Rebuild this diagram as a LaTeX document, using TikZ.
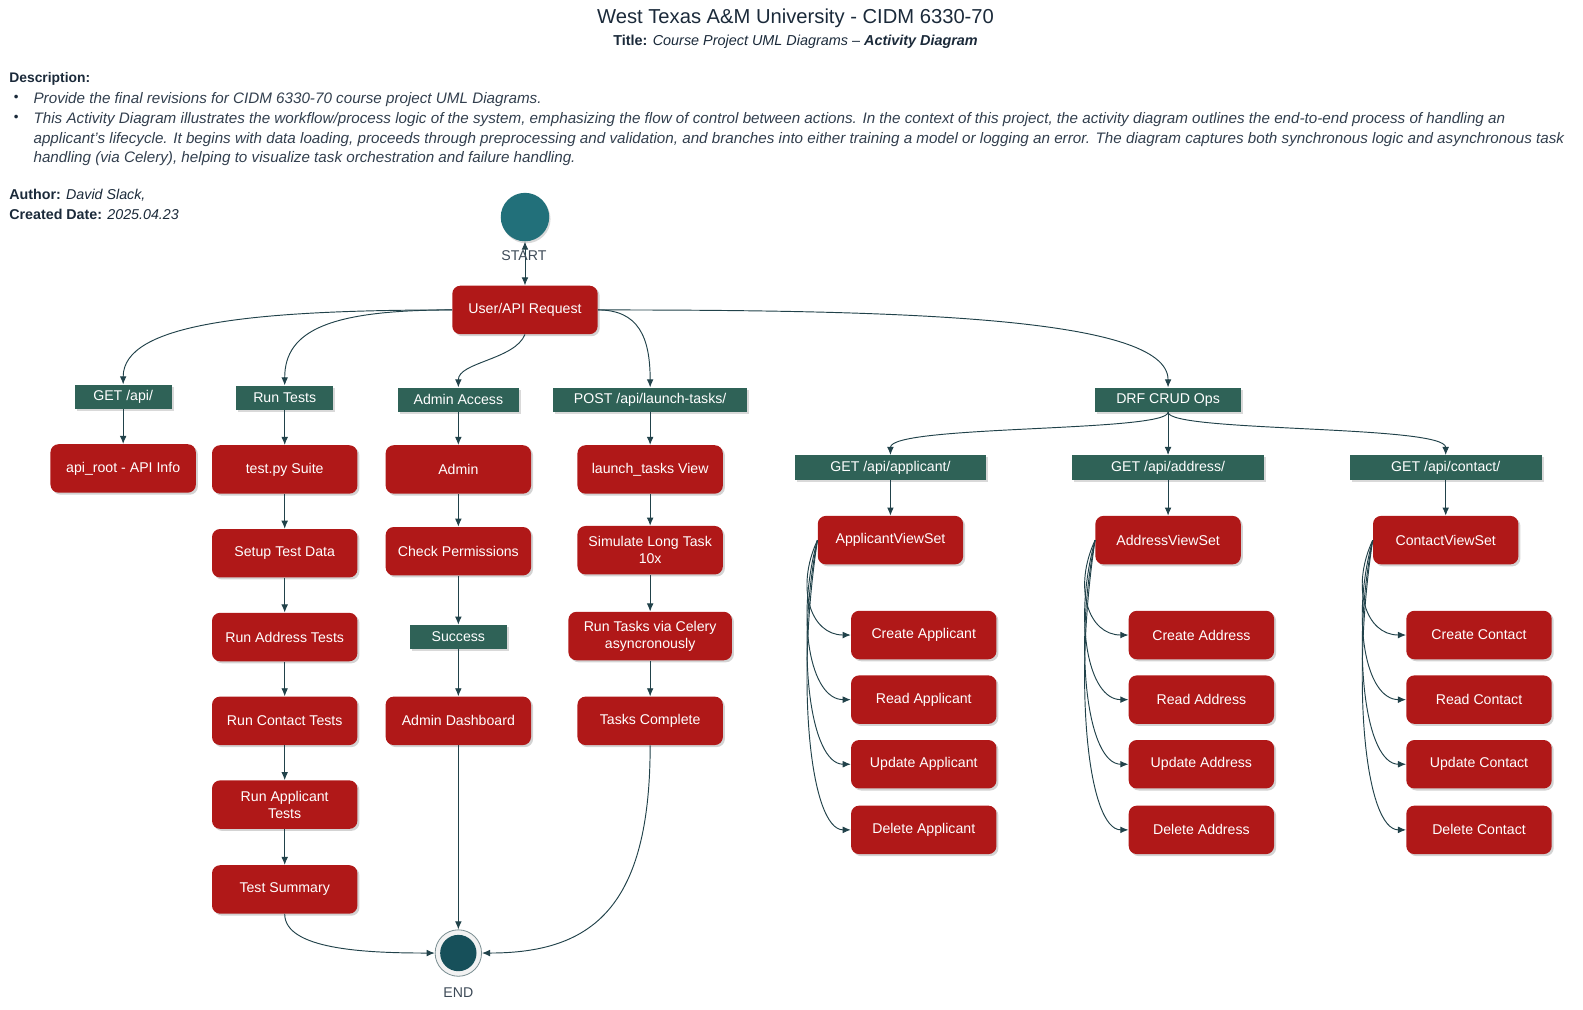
\documentclass[tikz,border=0pt]{standalone}
\usepackage{fontspec}
\setmainfont{Liberation Sans}
\usepackage{xcolor}
\usepackage{tikz}
\usetikzlibrary{arrows.meta,shadows}
\definecolor{ink}{HTML}{1B2A3A}
\definecolor{actred}{HTML}{B01818}
\definecolor{bargreen}{HTML}{2F6257}
\definecolor{startteal}{HTML}{22707A}
\definecolor{endteal}{HTML}{17505A}
\definecolor{flow}{HTML}{21424A}
\begin{document}
\begin{tikzpicture}[x=.75pt,y=.75pt,>={Latex[length=6pt,width=5pt]},
 act/.style={fill=actred,text=white,rounded corners=6pt,minimum width=108pt,minimum height=36pt,align=center,
  font=\fontsize{10.5}{12.5}\selectfont,drop shadow={opacity=.35,shadow xshift=1.5pt,shadow yshift=-1.5pt}},
 bar/.style={fill=bargreen,text=white,minimum height=18pt,inner sep=0pt,
  font=\fontsize{10.5}{12.5}\selectfont,drop shadow={opacity=.3,shadow xshift=1.5pt,shadow yshift=-1.5pt}},
 flw/.style={flow,line width=.7pt,->},
 lbl/.style={text=ink!85,font=\fontsize{10.5}{12.5}\selectfont}]
 \useasboundingbox (0,0) rectangle (1568,-1000);
 \node[ink,font=\fontsize{15}{18}\selectfont] (title) at (788,-18) {West Texas A\&M University - CIDM 6330-70};
 \node[ink,font=\fontsize{10.7}{12}\selectfont] (subtitle) at (788,-41)
  {\textbf{Title:} \textit{Course Project UML Diagrams} -- \textbf{\textit{Activity Diagram}}};
 \node[ink,anchor=west,inner sep=0pt,font=\fontsize{10.3}{12}\selectfont\bfseries] (desc) at (9,-78) {Description:};
 \node[ink,inner sep=0pt,font=\fontsize{10}{12}\selectfont] (dota) at (16,-97) {\textbullet};
 \node[ink,inner sep=0pt,font=\fontsize{10}{12}\selectfont] (dotb) at (16,-117) {\textbullet};
 \node[ink!90,anchor=north west,inner sep=0pt,align=left,font=\fontsize{11.3}{14.6}\selectfont\itshape] (desca) at (33,-91)
  {Provide the final revisions for CIDM 6330-70 course project UML Diagrams.};
 \node[ink!90,anchor=north west,inner sep=0pt,align=left,font=\fontsize{11.3}{14.6}\selectfont\itshape] (descb) at (33,-111)
  {This Activity Diagram illustrates the workflow/process logic of the system, emphasizing the flow of control between actions. In the context of this project, the activity diagram outlines the end-to-end process of handling an\\
  applicant's lifecycle. It begins with data loading, proceeds through preprocessing and validation, and branches into either training a model or logging an error. The diagram captures both synchronous logic and asynchronous task\\
  handling (via Celery), helping to visualize task orchestration and failure handling.};
 \node[ink,anchor=west,inner sep=0pt,font=\fontsize{10.6}{12}\selectfont] (author) at (9,-193) {\textbf{Author:} \textit{David Slack,}};
 \node[ink,anchor=west,inner sep=0pt,font=\fontsize{10.6}{12}\selectfont] (created) at (9,-212) {\textbf{Created Date:} \textit{2025.04.23}};

 \node[circle,minimum size=36pt,fill=startteal,drop shadow={opacity=.3,shadow xshift=1pt,shadow yshift=-1.5pt}] (start) at (520,-215) {};
 \node[act] (req) at (520,-307) {User/API Request};
 \draw[flw,<->] (start) -- (req);
 \node[lbl] (startlbl) at (519,-253) {START};

 \node[bar,minimum width=72pt] (getapi) at (122,-393) {GET /api/};
 \node[act] (apiroot) at (122,-464) {api\_root - API Info};

 \node[bar,minimum width=72pt] (runtests) at (282,-394) {Run Tests};
 \node[act] (testsuite) at (282,-465) {test.py Suite};
 \node[act] (setupdata) at (282,-548) {Setup Test Data};
 \node[act] (runaddr) at (282,-631) {Run Address Tests};
 \node[act] (runcont) at (282,-714) {Run Contact Tests};
 \node[act] (runappl) at (282,-797) {Run Applicant\\Tests};
 \node[act] (testsum) at (282,-881) {Test Summary};

 \node[bar,minimum width=90pt] (adminacc) at (454,-396) {Admin Access};
 \node[act] (admin) at (454,-465) {Admin};
 \node[act] (checkperm) at (454,-546) {Check Permissions};
 \node[bar,minimum width=72pt] (success) at (454,-631) {Success};
 \node[act] (admindash) at (454,-714) {Admin Dashboard};

 \node[bar,minimum width=144pt] (postlaunch) at (644,-396) {POST /api/launch-tasks/};
 \node[act] (launchview) at (644,-465) {launch\_tasks View};
 \node[act] (simtask) at (644,-545) {Simulate Long Task\\10x};
 \node[act,minimum width=121.5pt] (celery) at (644,-630) {Run Tasks via Celery\\asyncronously};
 \node[act] (taskdone) at (644,-714) {Tasks Complete};

 \node[bar,minimum width=108pt] (drfcrud) at (1157,-396) {DRF CRUD Ops};

 \node[circle,minimum size=34.5pt,draw=flow!60,line width=.6pt,fill=gray!10,
  path picture={\fill[endteal] (path picture bounding box.center) circle (13.5pt);}] (endnode) at (454,-944) {};
 \node[lbl] (endlbl) at (454,-983) {END};

 \foreach \cx/\cn/\cw/\cu in {882/apl/Applicant/applicant,1157/adr/Address/address,1432/con/Contact/contact}{
  \node[bar,minimum width=142.5pt] (g\cn) at (\cx,-463) {GET /api/\cu/};
  \node[act] (vs\cn) at (\cx,-535) {\cw ViewSet};
  \draw[flw] (g\cn) -- (vs\cn);
  \foreach \i/\op/\cy in {1/Create/629,2/Read/693,3/Update/757,4/Delete/822}{
   \node[act] (\cn\i) at (\cx+33,-\cy) {\op\ \cw};
   \pgfmathsetmacro{\dy}{0.5*(\cy-535)}
   \draw[flw] (vs\cn.west) .. controls +(-22,-\dy) and +(-40,0) .. (\cn\i.west);
  }
 }

 \draw[flw] (req.west) .. controls +(-200,0) and +(0,60) .. (getapi.north);
 \draw[flw] (req.west) .. controls +(-120,0) and +(0,55) .. (runtests.north);
 \draw[flw] (req.south) .. controls +(-10,-25) and +(0,25) .. (adminacc.north);
 \draw[flw] (req.east) .. controls +(40,0) and +(0,50) .. (postlaunch.north);
 \draw[flw] (req.east) .. controls +(300,0) and +(0,70) .. (drfcrud.north);
 \draw[flw] (drfcrud.south) .. controls +(0,-20) and +(0,30) .. (gapl.north);
 \draw[flw] (drfcrud) -- (gadr);
 \draw[flw] (drfcrud.south) .. controls +(0,-20) and +(0,30) .. (gcon.north);
 \foreach \a/\b in {getapi/apiroot,runtests/testsuite,testsuite/setupdata,setupdata/runaddr,runaddr/runcont,
  runcont/runappl,runappl/testsum,adminacc/admin,admin/checkperm,checkperm/success,success/admindash,
  admindash/endnode,postlaunch/launchview,launchview/simtask,simtask/celery,celery/taskdone}
  \draw[flw] (\a) -- (\b);
 \draw[flw] (testsum.south) .. controls +(0,-35) and +(-70,0) .. (endnode.west);
 \draw[flw] (taskdone.south) .. controls +(0,-160) and +(110,0) .. (endnode.east);
\end{tikzpicture}
\end{document}
